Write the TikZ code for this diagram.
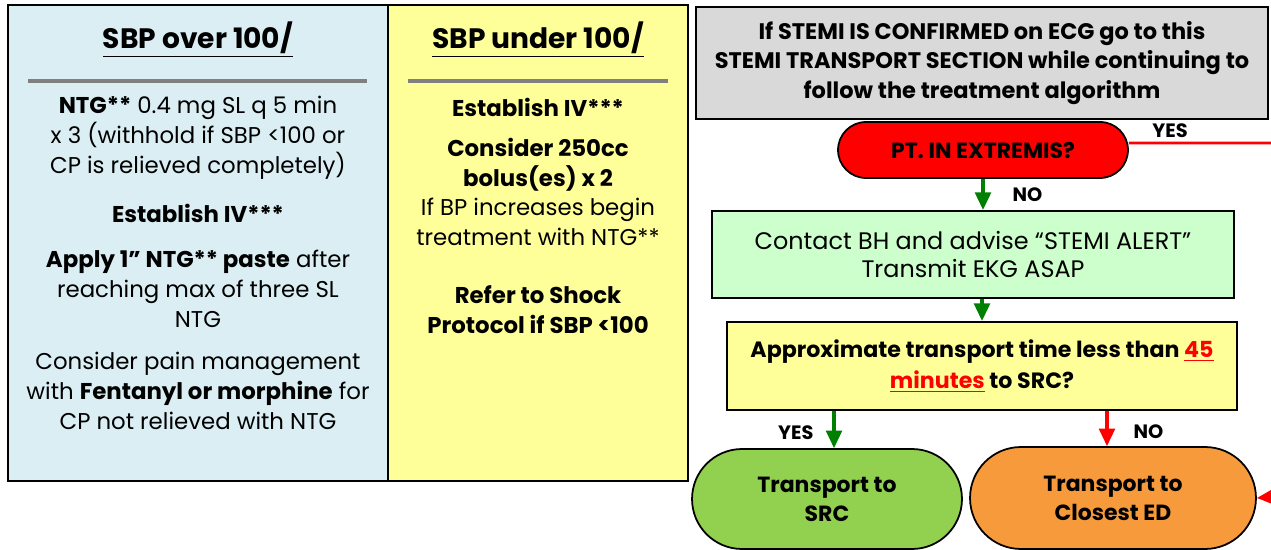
\documentclass[tikz,border=0pt]{standalone}
\usepackage{fontspec}
\setmainfont{Poppins}
\usetikzlibrary{positioning,arrows.meta,shapes.misc}
\definecolor{overblue}{HTML}{DAEEF3}
\definecolor{underyellow}{HTML}{FFFF99}
\definecolor{stemigray}{HTML}{D9D9D9}
\definecolor{alertgreen}{HTML}{CCFFCC}
\definecolor{srcgreen}{HTML}{92D050}
\definecolor{edorange}{HTML}{F79A3C}
\definecolor{gogreen}{HTML}{008000}

\begin{document}
\begin{tikzpicture}[x=0.02cm, y=-0.02cm,
	panel/.style={draw=black, line width=1pt},
	txt/.style={align=center, inner sep=0pt, font=\fontsize{13}{17}\selectfont},
	head/.style={inner sep=0pt, font=\fontsize{16}{19}\selectfont\bfseries},
	rulebar/.style={draw=gray, line width=2.5pt},
	box/.style={draw=black, line width=1.2pt, align=center, inner sep=0pt, font=\fontsize{13}{16.5}\selectfont},
	pill/.style={rounded rectangle, draw=black, line width=1pt, align=center, inner sep=0pt, font=\fontsize{12.5}{16.5}\selectfont\bfseries},
	tag/.style={inner sep=0pt, font=\fontsize{11}{13}\selectfont\bfseries},
	go/.style={-{Triangle[length=10pt,width=9pt]}, line width=1.8pt, gogreen},
	halt/.style={-{Triangle[length=10pt,width=9pt]}, line width=1.8pt, red}]
					\pgfmathsetmacro{\EdgeX}{1271}
					\pgfmathsetmacro{\EdgeY}{550}
					\path[use as bounding box, fill=white] (0,0) rectangle (\EdgeX,\EdgeY);
					% LEFT PANEL
					\filldraw[panel, fill=overblue] (8,5) rectangle (388,481);
					\node[head] (overhead) at (198,40) {\underline{SBP over 100/}};
					\draw[rulebar] (28,81) -- (367,81);
					\node[txt] (ntg) at (198,138) {\textbf{NTG**} 0.4 mg SL q 5 min\\x 3 (withhold if SBP <100 or\\CP is relieved completely)};
					\node[txt] (ivover) at (198,213) {\textbf{Establish IV***}};
					\node[txt] (paste) at (198,289) {\textbf{Apply 1” NTG** paste} after\\reaching max of three SL\\NTG};
					\node[txt] (pain) at (198,391) {Consider pain management\\with \textbf{Fentanyl or morphine} for\\CP not relieved with NTG};
					% MIDDLE PANEL
					\filldraw[panel, fill=underyellow] (388,5) rectangle (688,481);
					\node[head] (underhead) at (538,40) {\underline{SBP under 100/}};
					\draw[rulebar] (408,81) -- (668,81);
					\node[txt] (ivunder) at (538,107) {\textbf{Establish IV***}};
					\node[txt] (bolus) at (538,192) {\textbf{Consider 250cc}\\\textbf{bolus(es) x 2}\\If BP increases begin\\treatment with NTG**};
					\node[txt] (shock) at (538,310) {\textbf{Refer to Shock}\\\textbf{Protocol if SBP <100}};
					% STEMI SECTION
					\node[box, fill=stemigray, minimum width=11.44cm, minimum height=2.24cm, font=\fontsize{12.8}{16.7}\selectfont\bfseries] (stemi) at (982,63) {If STEMI IS CONFIRMED on ECG go to this\\STEMI TRANSPORT SECTION while continuing to\\follow the treatment algorithm};
					\node[pill, fill=red, minimum width=5.8cm, minimum height=1.12cm] (extremis) at (983,150) {PT. IN EXTREMIS?};
					\node[box, fill=alertgreen, minimum width=10.44cm, minimum height=1.74cm, font=\fontsize{13.6}{15.5}\selectfont] (alert) at (973,254.5) {Contact BH and advise “STEMI ALERT”\\Transmit EKG ASAP};
					\node[box, fill=underyellow, minimum width=10.2cm, minimum height=1.76cm, font=\fontsize{12.6}{17.5}\selectfont\bfseries] (eta) at (982,366) {Approximate transport time less than \textcolor{red}{\underline{45}}\\\textcolor{red}{\underline{minutes}} to SRC?};
					\node[pill, fill=srcgreen, minimum width=5.4cm, minimum height=2.0cm] (src) at (827,499) {Transport to\\SRC};
					\node[pill, fill=edorange, minimum width=5.72cm, minimum height=2.04cm] (closest) at (1113,498) {Transport to\\Closest ED};
					\coordinate (yesend) at (\EdgeX,143);
					\coordinate (edin) at (\EdgeX,497);
					% CONNECTORS
					\draw[red, line width=1.5pt] ([yshift=0.14cm]extremis.east) -- (yesend) node[tag, black, pos=0.29, above=0.08cm] {YES};
					\draw[go] (extremis.south) -- (extremis.south |- alert.north) node[tag, black, midway, right=0.56cm] {NO};
					\draw[go] (eta.north |- alert.south) -- (eta.north);
					\draw[go] ([xshift=0.14cm]src.north |- eta.south) -- ([xshift=0.14cm]src.north) node[tag, black, midway, left=0.38cm, yshift=-0.06cm] {YES};
					\draw[halt] ([xshift=-0.12cm]closest.north |- eta.south) -- ([xshift=-0.12cm]closest.north) node[tag, black, midway, right=0.5cm, yshift=-0.06cm] {NO};
					\draw[halt] (edin) -- (closest.east);
				\end{tikzpicture}
\end{document}
